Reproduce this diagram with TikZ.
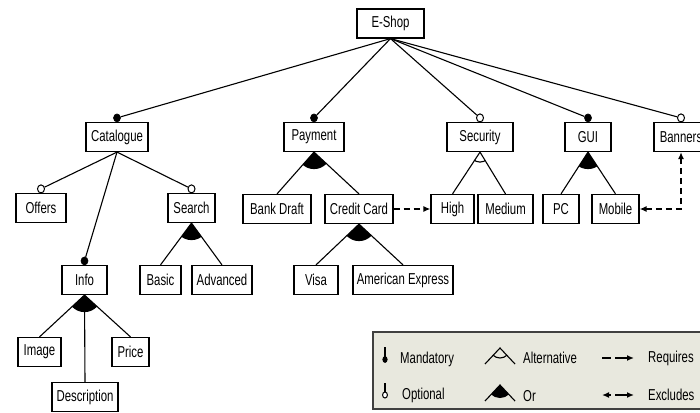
\documentclass[tikz,border=0pt]{standalone}
\usepackage{fontspec}
\setmainfont[FakeStretch=0.72]{Liberation Sans}
\usetikzlibrary{calc,arrows.meta,shapes.geometric}
\definecolor{legendbg}{RGB}{232,232,222}
\tikzset{fmtip/.tip={Latex[length=7pt,width=6pt]}}
\newcommand{\fmOr}[3]{%
  \begin{scope}
    \clip (#1.south) -- (#2.north) -- (#3.north) -- cycle;
    \fill (#1.south) circle[radius=17pt];
  \end{scope}}
\newcommand{\fmAlt}[3]{%
  \begin{scope}
    \clip (#1.south) -- (#2.north) -- (#3.north) -- cycle;
    \draw[line width=1.1pt] (#1.south) circle[radius=10pt];
  \end{scope}}
\begin{document}
\begin{tikzpicture}[x=1pt,y=-1pt,
  feat/.style={draw, line width=1.2pt, fill=white, minimum height=29pt, inner sep=0pt, font=\fontsize{15.8}{18}\selectfont},
  edge/.style={line width=1.1pt},
  mand/.style={ellipse, fill=black, draw, line width=0.6pt, inner sep=0pt, minimum width=7pt, minimum height=8pt},
  opt/.style={ellipse, fill=white, draw, line width=1pt, inner sep=0pt, minimum width=7pt, minimum height=8pt},
  dep/.style={line width=1.6pt, dash pattern=on 6pt off 4pt},
  lbl/.style={anchor=west, inner sep=0pt, font=\fontsize{15.8}{18}\selectfont},
]
\useasboundingbox (0,0) rectangle (700,412);

% features
\node[feat, minimum width=67pt] (eshop) at (390.5,23.5) {E-Shop};
\node[feat, minimum width=62pt] (cat) at (117,137) {Catalogue};
\node[feat, minimum width=60pt] (pay) at (314,137) {Payment};
\node[feat, minimum width=66pt] (sec) at (480,137) {Security};
\node[feat, minimum width=46pt] (gui) at (588,137) {GUI};
\node[feat, minimum width=54pt] (ban) at (681,137) {Banners};

\node[feat, minimum width=50pt] (off) at (41,208) {Offers};
\node[feat, minimum width=47pt] (sea) at (191.5,208) {Search};
\node[feat, minimum width=68pt] (bank) at (277,209) {Bank Draft};
\node[feat, minimum width=68pt] (cc) at (359,209) {Credit Card};
\node[feat, minimum width=43pt] (high) at (452.5,209) {High};
\node[feat, minimum width=55pt] (med) at (505.5,209) {Medium};
\node[feat, minimum width=36pt] (pc) at (561,209) {PC};
\node[feat, minimum width=47pt] (mob) at (615.5,209) {Mobile};

\node[feat, minimum width=45pt] (info) at (84.5,280) {Info};
\node[feat, minimum width=41pt] (basic) at (160.5,280) {Basic};
\node[feat, minimum width=60pt] (adv) at (222,280) {Advanced};
\node[feat, minimum width=44pt] (visa) at (316,280) {Visa};
\node[feat, minimum width=100pt] (amex) at (403,280) {American Express};

\node[feat, minimum width=43pt] (img) at (39.5,352) {Image};
\node[feat, minimum width=37pt] (price) at (130.5,352) {Price};
\node[feat, minimum width=66pt] (desc) at (85,397) {Description};

% mandatory / optional markers
\node[mand] (catm) at ($(cat.north)+(0,-4)$) {};
\node[mand] (paym) at ($(pay.north)+(0,-4)$) {};
\node[opt]  (seco) at ($(sec.north)+(0,-4)$) {};
\node[mand] (guim) at ($(gui.north)+(0,-4)$) {};
\node[opt]  (bano) at ($(ban.north)+(0,-4)$) {};
\node[opt]  (offo) at ($(off.north)+(0,-4)$) {};
\node[opt]  (seao) at ($(sea.north)+(0,-4)$) {};
\node[mand] (infom) at ($(info.north)+(0,-4)$) {};

\draw[edge] (eshop.south) -- (catm);
\draw[edge] (eshop.south) -- (paym);
\draw[edge] (eshop.south) -- (seco);
\draw[edge] (eshop.south) -- (guim);
\draw[edge] (eshop.south) -- (bano);
\draw[edge] (cat.south) -- (offo);
\draw[edge] (cat.south) -- (seao);
\draw[edge] (cat.south) -- (infom);

% groups
\draw[edge] (pay.south) -- (bank.north);
\draw[edge] (pay.south) -- (cc.north);
\fmOr{pay}{bank}{cc}
\draw[edge] (cc.south) -- (visa.north);
\draw[edge] (cc.south) -- (amex.north);
\fmOr{cc}{visa}{amex}
\draw[edge] (sec.south) -- (high.north);
\draw[edge] (sec.south) -- (med.north);
\fmAlt{sec}{high}{med}
\draw[edge] (gui.south) -- (pc.north);
\draw[edge] (gui.south) -- (mob.north);
\fmOr{gui}{pc}{mob}
\draw[edge] (sea.south) -- (basic.north);
\draw[edge] (sea.south) -- (adv.north);
\fmOr{sea}{basic}{adv}
\draw[edge] (info.south) -- (img.north);
\draw[edge] (info.south) -- (desc.north);
\draw[edge] (info.south) -- (price.north);
\fmOr{info}{img}{price}

% cross-tree constraints
\draw[dep, -{fmtip}] (cc.east) -- (high.west);
\draw[dep, {fmtip}-{fmtip}] (mob.east) -- (mob.east -| ban.south) -- (ban.south);

% legend
\node[draw=black!75, line width=1.5pt, fill=legendbg, anchor=north west, minimum width=340pt, minimum height=77pt, inner sep=0pt] (legend) at (372,331) {};
\draw[edge] (385,347) -- (385,357);
\fill (385,359.5) ellipse[x radius=2.6pt, y radius=3.4pt];
\node[lbl] (lm) at (400,359) {Mandatory};
\draw[edge] (385,383) -- (385,392);
\draw[line width=1pt, fill=white] (385,395) ellipse[x radius=2.4pt, y radius=3pt];
\node[lbl] (lo) at (402,395) {Optional};

\coordinate (alta) at (500,348);
\coordinate (altl) at (485,364);
\coordinate (altr) at (515,364);
\draw[edge] (altl) -- (alta) -- (altr);
\begin{scope}
  \clip (alta) -- (altl) -- (altr) -- cycle;
  \draw[line width=1.1pt] (alta) circle[radius=10pt];
\end{scope}
\node[lbl] (la) at (523,358) {Alternative};

\coordinate (ora) at (500,385);
\coordinate (orl) at (485,401);
\coordinate (orr) at (515,401);
\draw[edge] (orl) -- (ora) -- (orr);
\begin{scope}
  \clip (ora) -- (orl) -- (orr) -- cycle;
  \fill (ora) circle[radius=13pt];
\end{scope}
\node[lbl] (lor) at (523,396) {Or};

\draw[line width=1.6pt] (602,358) -- (611,358);
\draw[line width=1.6pt, -{fmtip}] (615,358) -- (634,358);
\node[lbl] (lr) at (648,358) {Requires};
\draw[line width=1.6pt, {fmtip}-] (602,395) -- (611,395);
\draw[line width=1.6pt, -{fmtip}] (615,395) -- (634,395);
\node[lbl] (lx) at (648,395) {Excludes};
\end{tikzpicture}
\end{document}
